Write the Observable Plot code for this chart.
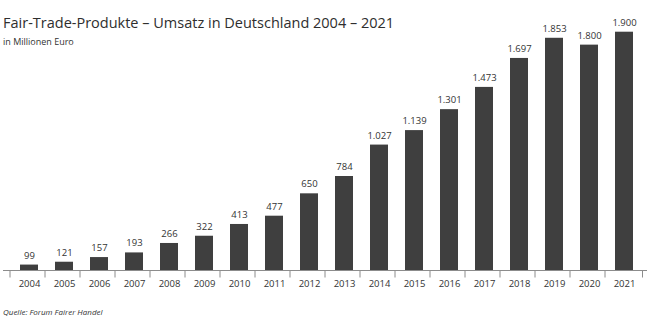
<!DOCTYPE html>
<html>
<head>
<meta charset="utf-8">
<script src="https://cdn.jsdelivr.net/npm/d3@7"></script>
<script src="https://cdn.jsdelivr.net/npm/@observablehq/plot@0.6"></script>
<style>
  html, body { margin: 0; padding: 0; background: #fff; }
  body { width: 657px; height: 326px; position: relative; overflow: hidden; font-family: "Open Sans", sans-serif; color: #333; }
  #title { position: absolute; left: 3px; top: 12.5px; font-size: 14.5px; line-height: 20px; white-space: nowrap; color: #2e2e2e; }
  #subtitle { position: absolute; left: 3px; top: 36px; font-size: 9px; line-height: 12px; white-space: nowrap; color: #333; }
  #caption { position: absolute; left: 3px; top: 306px; font-size: 8px; line-height: 12px; font-style: italic; white-space: nowrap; color: #333; }
  #chart { position: absolute; left: 0; top: 0; }
</style>
</head>
<body>
<div id="chart"></div>
<div id="title">Fair-Trade-Produkte – Umsatz in Deutschland 2004 – 2021</div>
<div id="subtitle">in Millionen Euro</div>
<div id="caption">Quelle: Forum Fairer Handel</div>
<script>
const years = ["2004","2005","2006","2007","2008","2009","2010","2011","2012","2013","2014","2015","2016","2017","2018","2019","2020","2021"];
const values = [99, 121, 157, 193, 266, 322, 413, 477, 650, 784, 1027, 1139, 1301, 1473, 1697, 1853, 1800, 1900];
const yBase = 57;   // axis baseline value
const yTop = 1900;

const data = years.map((year, i) => ({year, value: values[i]}));
const fmt = v => v >= 1000 ? Math.floor(v / 1000) + "." + String(v % 1000).padStart(3, "0") : String(v);

const chart = Plot.plot({
  width: 657,
  height: 326,
  marginLeft: 3,
  marginRight: 10,
  marginTop: 0,
  marginBottom: 0,
  style: {fontFamily: "Open Sans, sans-serif", background: "transparent", color: "#333"},
  x: {type: "band", domain: years, range: [6.1, 647], paddingInner: 0.5, paddingOuter: 0.25, axis: null},
  y: {domain: [yBase, yTop], range: [270, 31.7], axis: null},
  marks: [
    Plot.barY(data, {x: "year", y1: () => yBase, y2: "value", fill: "#3f3f3f"}),
    Plot.ruleY([yBase], {stroke: "#8c8c8c", strokeWidth: 1}),
    Plot.ruleX(years, {x: d => d, y1: () => yBase, y2: () => yBase, insetBottom: -7.5, dx: -19.5, stroke: "#8c8c8c", strokeWidth: 1}),
    Plot.ruleX(years.slice(-1), {x: d => d, y1: () => yBase, y2: () => yBase, insetBottom: -7.5, dx: 18, stroke: "#8c8c8c", strokeWidth: 1}),
    Plot.text(data, {x: "year", y: "value", text: d => fmt(d.value), lineAnchor: "bottom", dy: -6.5, fontSize: 9.5, fill: "#333"}),
    Plot.text(years, {x: d => d, y: () => yBase, text: d => d, lineAnchor: "middle", dy: 13.5, fontSize: 9.5, fill: "#333"})
  ]
});
document.getElementById("chart").appendChild(chart);
</script>
</body>
</html>
